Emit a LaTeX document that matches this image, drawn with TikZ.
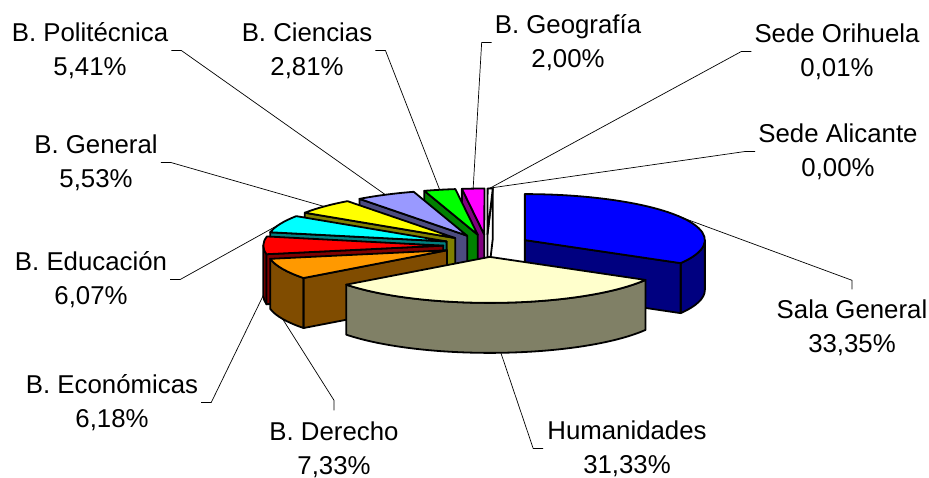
\documentclass[tikz,border=0pt]{standalone}
\usepackage{fontspec}
\setmainfont{Liberation Sans}
\usetikzlibrary{calc}

\definecolor{salatop}{RGB}{0,0,255}     \definecolor{salaside}{RGB}{0,0,128}
\definecolor{humtop}{RGB}{255,255,204}  \definecolor{humside}{RGB}{128,128,102}
\definecolor{dertop}{RGB}{255,153,0}    \definecolor{derside}{RGB}{128,76,0}
\definecolor{ecotop}{RGB}{255,0,0}      \definecolor{ecoside}{RGB}{128,0,0}
\definecolor{edutop}{RGB}{0,255,255}    \definecolor{eduside}{RGB}{0,128,128}
\definecolor{gentop}{RGB}{255,255,0}    \definecolor{genside}{RGB}{128,128,0}
\definecolor{poltop}{RGB}{153,153,255}  \definecolor{polside}{RGB}{76,76,128}
\definecolor{cietop}{RGB}{0,255,0}      \definecolor{cieside}{RGB}{0,128,0}
\definecolor{geotop}{RGB}{255,0,255}    \definecolor{geoside}{RGB}{128,0,128}

\tikzset{
  pie/.style={draw=black, line width=1.8pt, line join=round},
  leader/.style={draw=black, line width=0.7pt},
  lbl/.style={align=center, inner sep=0pt, font=\fontsize{25.8}{34}\selectfont},
}

% top face: centre, start angle, end angle, colour
\newcommand\pietop[4]{\filldraw[pie, fill=#4] (#1) -- ($(#1)+(#2:180pt and 46pt)$)
  arc[start angle=#2, end angle=#3, x radius=180pt, y radius=46pt] -- cycle;}
% radial wall: centre, angle, colour
\newcommand\piewall[3]{\filldraw[pie, fill=#3] (#1) -- ($(#1)+(#2:180pt and 46pt)$)
  -- ++(0,-50) -- ($(#1)+(0,-50)$) -- cycle;}
% outer wall: centre, from, to, colour
\newcommand\pierim[4]{\filldraw[pie, fill=#4] ($(#1)+(#2:180pt and 46pt)$)
  arc[start angle=#2, end angle=#3, x radius=180pt, y radius=46pt] -- ++(0,-50)
  arc[start angle=#3, end angle=#2, x radius=180pt, y radius=46pt] -- cycle;}

\begin{document}
\begin{tikzpicture}[x=1pt, y=1pt]
  \fill[white] (0,0) rectangle (929,-478);
  \useasboundingbox (0,0) rectangle (929,-478);

  \coordinate (C) at (487,-245.7);
  % exploded slice centres
  \coordinate (sala) at ($(C)+(30:43.7pt and 11.2pt)$);
  \coordinate (hum)  at ($(C)+(273.55:43.7pt and 11.2pt)$);
  \coordinate (der)  at ($(C)+(203.96:43.7pt and 11.2pt)$);
  \coordinate (eco)  at ($(C)+(179.64:43.7pt and 11.2pt)$);
  \coordinate (edu)  at ($(C)+(157.59:43.7pt and 11.2pt)$);
  \coordinate (gen)  at ($(C)+(136.71:43.7pt and 11.2pt)$);
  \coordinate (pol)  at ($(C)+(117.01:43.7pt and 11.2pt)$);
  \coordinate (cie)  at ($(C)+(102.21:43.7pt and 11.2pt)$);
  \coordinate (geo)  at ($(C)+(93.55:43.7pt and 11.2pt)$);
  \coordinate (ori)  at ($(C)+(89.4:43.7pt and 11.2pt)$);

  % back to front
  \pierim{sala}{-30.06}{0}{salaside}
  \piewall{sala}{-30.06}{salaside}
  \pietop{sala}{-30.06}{90}{salatop}

  \piewall{ori}{88.3}{white}
  \pietop{ori}{88.3}{89.95}{white}

  \piewall{geo}{97.15}{geoside}
  \pietop{geo}{89.95}{97.15}{geotop}

  \piewall{cie}{107.27}{cieside}
  \pietop{cie}{97.15}{107.27}{cietop}

  \piewall{pol}{126.75}{polside}
  \pietop{pol}{107.27}{126.75}{poltop}

  \piewall{gen}{146.66}{genside}
  \pietop{gen}{126.75}{146.66}{gentop}

  \piewall{edu}{168.51}{eduside}
  \pietop{edu}{146.66}{168.51}{edutop}

  \pierim{eco}{180}{190.76}{ecoside}
  \piewall{eco}{190.76}{ecoside}
  \pietop{eco}{168.51}{190.76}{ecotop}

  \pierim{der}{190.76}{217.15}{derside}
  \piewall{der}{217.15}{derside}
  \pietop{der}{190.76}{217.15}{dertop}

  \pierim{hum}{217.15}{329.94}{humside}
  \pietop{hum}{217.15}{329.94}{humtop}

  % leader ends
  \coordinate (psala) at ($(sala)+(30:180pt and 46pt)$);
  \coordinate (phum)  at ($(hum)+(273.55:180pt and 46pt)+(0,-50)$);
  \coordinate (pder)  at ($(der)+(203.96:180pt and 46pt)+(0,-50)$);
  \coordinate (peco)  at ($(eco)+(179.64:180pt and 46pt)+(0,-50)$);
  \coordinate (pedu)  at ($(edu)+(157.59:180pt and 46pt)$);
  \coordinate (pgen)  at ($(gen)+(136.71:180pt and 46pt)$);
  \coordinate (ppol)  at ($(pol)+(117.01:180pt and 46pt)$);
  \coordinate (pcie)  at ($(cie)+(102.21:180pt and 46pt)$);
  \coordinate (pgeo)  at ($(geo)+(93.55:180pt and 46pt)$);
  \coordinate (pori)  at ($(ori)+(89.4:180pt and 46pt)$);
  \coordinate (pali)  at ($(C)+(90:43.7pt and 11.2pt)+(90:180pt and 46pt)$);

  % labels
  \node[lbl] (lpol)  at (90,-50.5)   {B. Politécnica\\5,41\%};
  \node[lbl] (lcie)  at (307,-50.5)  {B. Ciencias\\2,81\%};
  \node[lbl] (lgeo)  at (568,-42.5)  {B. Geografía\\2,00\%};
  \node[lbl] (lori)  at (837,-51.5)  {Sede Orihuela\\0,01\%};
  \node[lbl] (lali)  at (838,-151.5) {Sede Alicante\\0,00\%};
  \node[lbl] (lgen)  at (96,-162.5)  {B. General\\5,53\%};
  \node[lbl] (ledu)  at (91,-279.5)  {B. Educación\\6,07\%};
  \node[lbl] (leco)  at (112,-402.5) {B. Económicas\\6,18\%};
  \node[lbl] (lder)  at (334,-449.5) {B. Derecho\\7,33\%};
  \node[lbl] (lhum)  at (627,-448.5) {Humanidades\\31,33\%};
  \node[lbl] (lsala) at (852,-327.5) {Sala General\\33,35\%};

  \draw[leader] ([xshift=3pt]lpol.east) -- ++(10,0) -- (ppol);
  \draw[leader] ([xshift=3pt]lcie.east) -- ++(10,0) -- (pcie);
  \draw[leader] ([xshift=-3pt]lgeo.west) -- ++(-10,0) -- (pgeo);
  \draw[leader] ([xshift=-3pt]lori.west) -- ++(-10,0) -- (pori);
  \draw[leader] ([xshift=-3pt]lali.west) -- ++(-10,0) -- (pali);
  \draw[leader] ([xshift=3pt]lgen.east) -- ++(10,0) -- (pgen);
  \draw[leader] ([xshift=3pt]ledu.east) -- ++(10,0) -- (pedu);
  \draw[leader] ([xshift=3pt]leco.east) -- ++(10,0) -- (peco);
  \draw[leader] ([yshift=11pt]lder.north) -- ++(0,10) -- (pder);
  \draw[leader] ([yshift=10pt]lsala.north) -- ++(0,9) -- (psala);
  \draw[leader] ([xshift=-4pt]lhum.west) -- ++(-10,0) -- (phum);
\end{tikzpicture}
\end{document}
